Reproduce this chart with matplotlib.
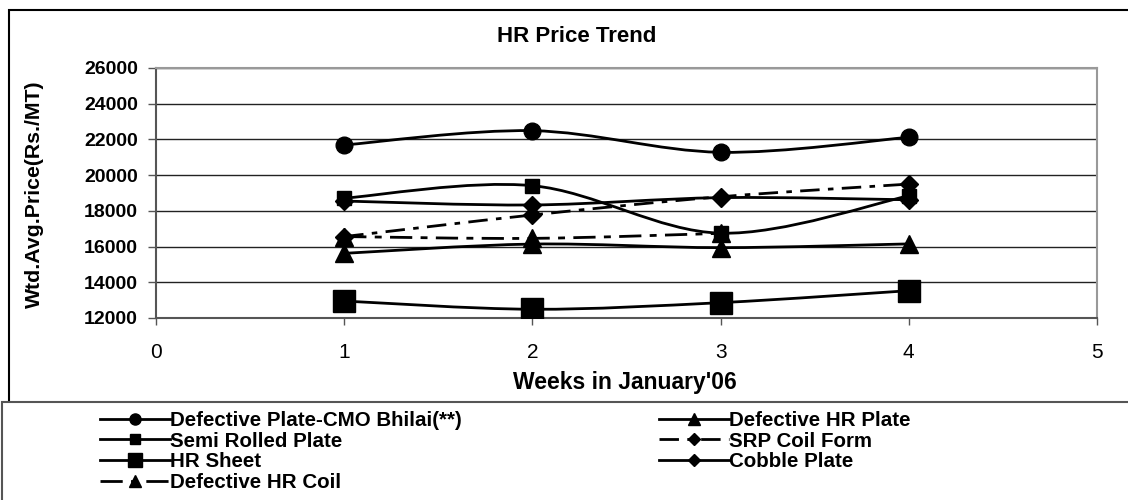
import numpy as np
import matplotlib
matplotlib.use("Agg")
from matplotlib import pyplot as plt
from matplotlib.path import Path
from matplotlib.patches import PathPatch, Rectangle
from matplotlib.lines import Line2D

plt.rcParams["font.family"] = ["Liberation Sans", "DejaVu Sans"]

weeks = [1, 2, 3, 4]

# series in legend order (column-wise)
names = [
    "Defective Plate-CMO Bhilai(**)",
    "Semi Rolled Plate",
    "HR Sheet",
    "Defective HR Coil",
    "Defective HR Plate",
    "SRP Coil Form",
    "Cobble Plate",
]
cmo_bhilai = [21690, 22490, 21280, 22120]
semi_rolled = [18710, 19410, 16750, 18840]
hr_sheet = [12950, 12490, 12860, 13530]
def_hr_coil = [16560, 16460, 16740, np.nan]
def_hr_plate = [15620, 16140, 15940, 16150]
srp_coil = [16560, 17770, 18790, 19500]
cobble = [18550, 18330, 18740, 18620]
values = [cmo_bhilai, semi_rolled, hr_sheet, def_hr_coil, def_hr_plate, srp_coil, cobble]

markers = ["o", "s", "s", "^", "^", "D", "D"]
msizes = [12, 10.5, 15.5, 12.5, 12.5, 9, 9]
leg_msizes = [8, 7, 10, 8, 8, 6, 6]
dashes = [None, None, None, (8, 3, 2.5, 3), None, (7, 3, 2, 3), None]


def smooth_path(xs, ys):
    # Excel-style smoothed line: cubic bezier with catmull-rom control points
    pts = [(x, y) for x, y in zip(xs, ys) if not np.isnan(y)]
    p = np.array(pts, dtype=float)
    n = len(p)
    verts = [p[0]]
    codes = [Path.MOVETO]
    for i in range(n - 1):
        p0 = p[i - 1] if i > 0 else p[i]
        p3 = p[i + 2] if i + 2 < n else p[i + 1]
        c1 = p[i] + (p[i + 1] - p0) / 6.0
        c2 = p[i + 1] - (p3 - p[i]) / 6.0
        verts += [c1, c2, p[i + 1]]
        codes += [Path.CURVE4] * 3
    return Path(verts, codes)


W, H = 1128, 500
fig = plt.figure(figsize=(W / 100, H / 100), dpi=100)
ax = fig.add_axes([156 / W, 1 - 318 / H, (1097 - 156) / W, (318 - 68) / H])

# outer chart border and legend box
fig.patches.append(Rectangle((9 / W, -0.01), 1.2, 1 - 10 / H + 0.01, transform=fig.transFigure,
                             fill=False, edgecolor="black", linewidth=1.5, zorder=0))
fig.patches.append(Rectangle((2 / W, -0.01), 1.2, 1 - 402 / H + 0.01, transform=fig.transFigure,
                             facecolor="white", edgecolor="#555555", linewidth=1.5, zorder=1))

handles = []
for name, vals, mk, ms, lms, ds in zip(names, values, markers, msizes, leg_msizes, dashes):
    path = smooth_path(weeks, vals)
    patch = PathPatch(path, fill=False, edgecolor="black", linewidth=2.0, zorder=3,
                      capstyle="butt")
    if ds is not None:
        patch.set_linestyle((0, ds))
    ax.add_patch(patch)
    ax.plot(weeks, vals, linestyle="none", marker=mk, markersize=ms, color="black", zorder=4)
    h = Line2D([], [], color="black", linewidth=2.0, marker=mk, markersize=lms)
    if ds is not None:
        h.set_dashes(ds)
    handles.append(h)

ax.set_xlim(0, 5)
ax.set_ylim(12000, 26000)
ax.set_xticks([0, 1, 2, 3, 4, 5])
ax.set_yticks(np.arange(12000, 26001, 2000))
ax.tick_params(axis="x", labelsize=15, direction="out", length=5, width=1, pad=13,
               color="#555555")
ax.tick_params(axis="y", labelsize=14, direction="out", length=6, width=1, pad=7,
               color="#555555")
for lab in ax.get_yticklabels():
    lab.set_fontweight("bold")
ax.grid(axis="y", color="#222222", linewidth=1.0)
ax.set_axisbelow(True)
for side in ["top", "right"]:
    ax.spines[side].set_color("#999999")
    ax.spines[side].set_linewidth(1.5)
for side in ["left", "bottom"]:
    ax.spines[side].set_color("#555555")
    ax.spines[side].set_linewidth(1.5)

fig.text(577 / W, 1 - 37 / H, "HR Price Trend", fontsize=16, fontweight="bold",
         ha="center", va="center")
fig.text(625 / W, 1 - 382 / H, "Weeks in January'06", fontsize=16.5, fontweight="bold",
         ha="center", va="center")
fig.text(34 / W, 1 - 194 / H, "Wtd.Avg.Price(Rs./MT)", fontsize=15.3, fontweight="bold",
         ha="center", va="center", rotation=90)

leg = fig.legend(handles, names, ncol=2, loc="upper left",
                 bbox_to_anchor=(100 / W, 1 - 411 / H),
                 frameon=False, prop={"weight": "bold", "size": 14.8},
                 labelspacing=0.08, handlelength=3.4, handletextpad=0.0,
                 columnspacing=9.6, borderaxespad=0, borderpad=0)
leg.set_zorder(5)

fig.savefig("out.png", dpi=100)
